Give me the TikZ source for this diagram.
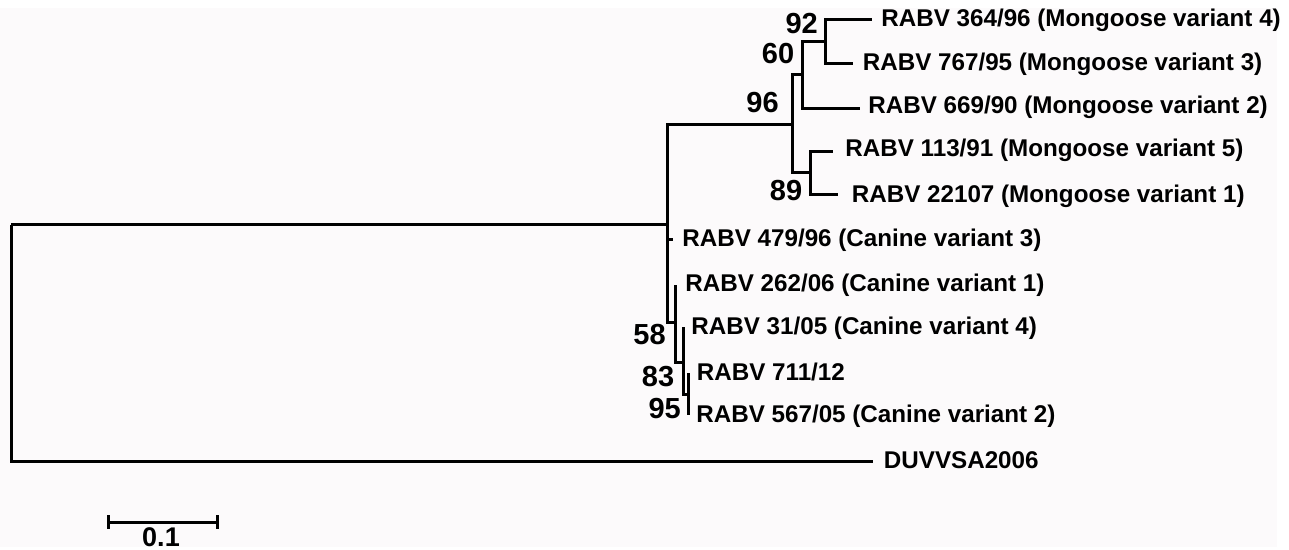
\documentclass[tikz,border=0pt]{standalone}
\usepackage{fontspec}
\setmainfont{Liberation Sans}
\begin{document}
\begin{tikzpicture}[x=0.5pt,y=-0.5pt,
  branch/.style={line width=1.5pt, line join=miter},
  taxon/.style={anchor=base west, inner sep=0pt, font=\fontsize{12.1}{14}\selectfont\bfseries},
  boot/.style={anchor=center, inner sep=0pt, font=\fontsize{14.5}{17}\selectfont\bfseries},
  scalelab/.style={anchor=center, inner sep=0pt, font=\fontsize{13.5}{16}\selectfont\bfseries}]
\definecolor{bgpink}{RGB}{252,250,251}
\useasboundingbox (0,0) rectangle (1289,550);
\fill[white] (0,0) rectangle (1289,550);
\fill[bgpink] (0,8) rectangle (1277,547);
% internal nodes
\coordinate (R) at (11,225);
\coordinate (A) at (667,225);
\coordinate (M) at (792,125);
\coordinate (M1) at (802,75);
\coordinate (M11) at (825,42);
\coordinate (M2) at (810,173);
\coordinate (B) at (675,323);
\coordinate (C) at (683,363);
\coordinate (D) at (688,394);
% tips
\coordinate (t364) at (872,20);
\coordinate (t767) at (853,63.3);
\coordinate (t669) at (860,109);
\coordinate (t113) at (833,151.7);
\coordinate (t22107) at (838,195);
\coordinate (t479) at (673,240);
\coordinate (t262) at (675,285);
\coordinate (t31) at (683,327);
\coordinate (t711) at (688,373.3);
\coordinate (t567) at (688,415);
\coordinate (tDUV) at (873,461.5);
% branches
\draw[branch] (R) |- (A);
\draw[branch] (R) |- (tDUV);
\draw[branch] (A) |- (M);
\draw[branch] (A) |- (t479);
\draw[branch] (A) |- (B);
\draw[branch] (M) |- (M1);
\draw[branch] (M) |- (M2);
\draw[branch] (M1) |- (M11);
\draw[branch] (M1) |- (t669);
\draw[branch] (M11) |- (t364);
\draw[branch] (M11) |- (t767);
\draw[branch] (M2) |- (t113);
\draw[branch] (M2) |- (t22107);
\draw[branch] (B) |- (t262);
\draw[branch] (B) |- (C);
\draw[branch] (C) |- (t31);
\draw[branch] (C) |- (D);
\draw[branch] (D) |- (t711);
\draw[branch] (D) |- (t567);
% taxon labels
\node[taxon] (l364) at (881,26.5) {RABV 364/96 (Mongoose variant 4)};
\node[taxon] (l767) at (862.5,70.5) {RABV 767/95 (Mongoose variant 3)};
\node[taxon] (l669) at (868,114) {RABV 669/90 (Mongoose variant 2)};
\node[taxon] (l113) at (845,157) {RABV 113/91 (Mongoose variant 5)};
\node[taxon] (l22107) at (851.5,202.5) {RABV 22107 (Mongoose variant 1)};
\node[taxon] (l479) at (682,246.5) {RABV 479/96 (Canine variant 3)};
\node[taxon] (l262) at (685,291.5) {RABV 262/06 (Canine variant 1)};
\node[taxon] (l31) at (691,334.8) {RABV 31/05 (Canine variant 4)};
\node[taxon] (l711) at (696.5,380.5) {RABV 711/12};
\node[taxon] (l567) at (696,422.8) {RABV 567/05 (Canine variant 2)};
\node[taxon] (lDUV) at (883.5,468.5) {DUVVSA2006};
% bootstrap values
\node[boot] (b92) at (801.7,23.3) {92};
\node[boot] (b60) at (778,54) {60};
\node[boot] (b96) at (762.5,102.5) {96};
\node[boot] (b89) at (786,191) {89};
\node[boot] (b58) at (649.5,335) {58};
\node[boot] (b83) at (658,376.3) {83};
\node[boot] (b95) at (664.7,408.3) {95};
% scale bar
\coordinate (sb1) at (108,522);
\coordinate (sb2) at (217,522);
\draw[branch] (sb1) -- (sb2);
\draw[branch] (sb1) ++(0,-7) -- ++(0,14);
\draw[branch] (sb2) ++(0,-7) -- ++(0,14);
\node[scalelab] (sblab) at (161,537.5) {0.1};
\end{tikzpicture}
\end{document}
